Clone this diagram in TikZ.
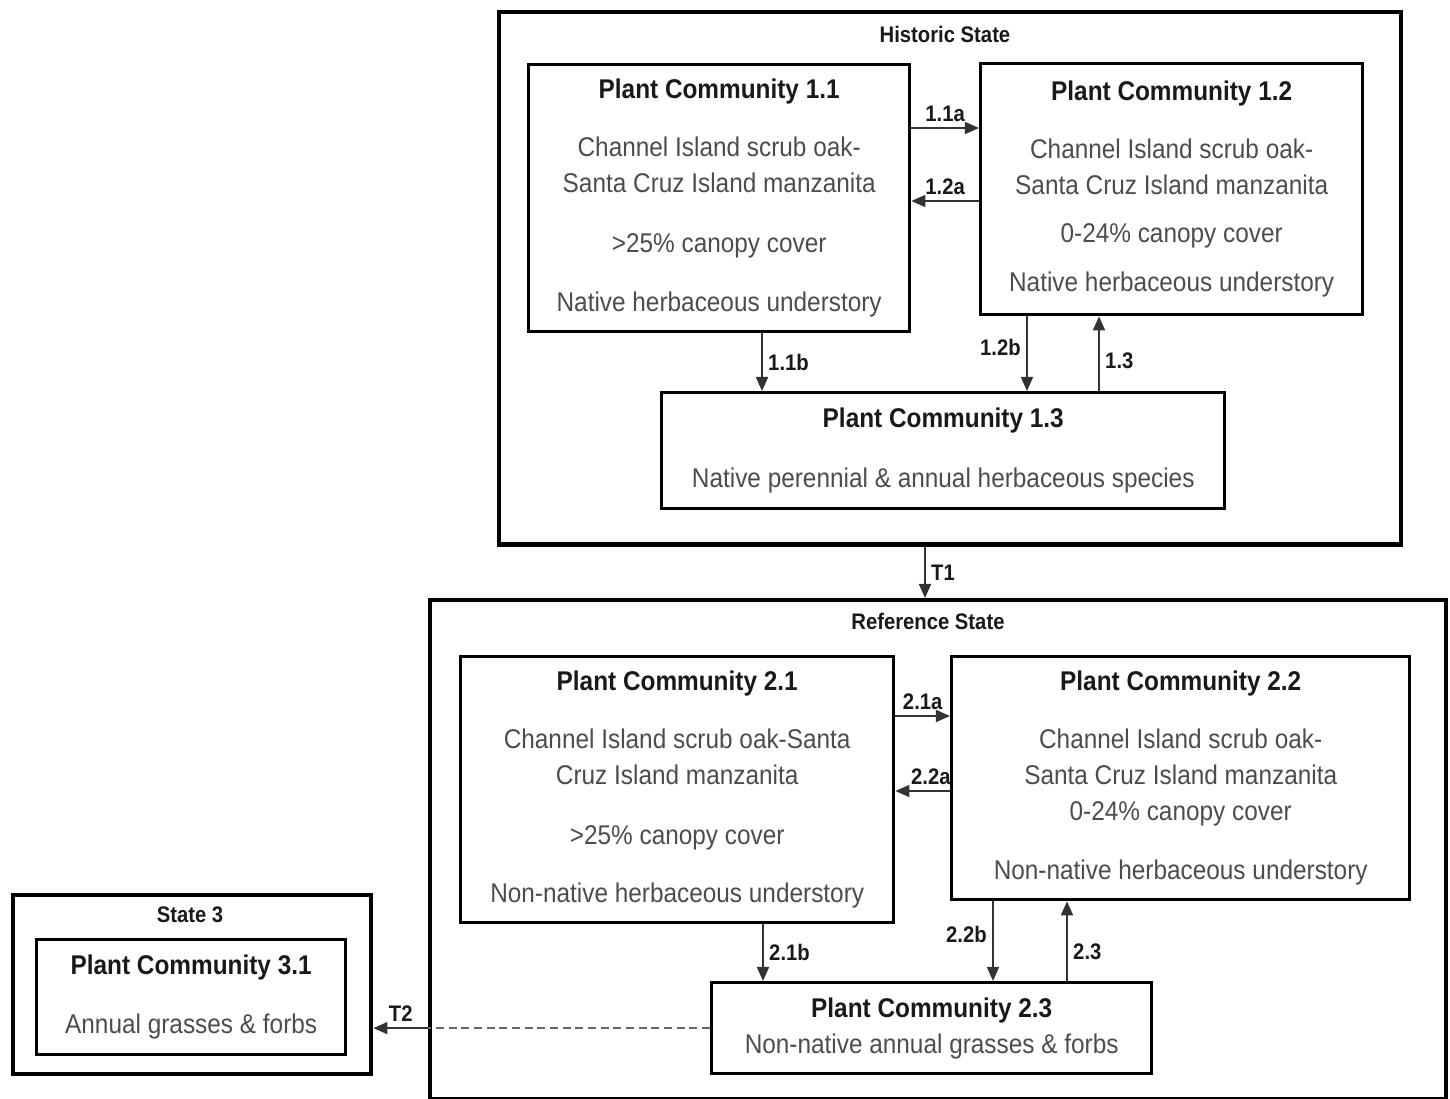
\documentclass[tikz,border=0pt]{standalone}
\usepackage{fontspec}
\newfontfamily\diagfont{Liberation Sans}[FakeStretch=0.9]
\usetikzlibrary{arrows.meta,positioning,calc}

\newcommand{\pctitle}[1]{\textcolor{black!90}{\bfseries #1}}

\begin{document}
\begin{tikzpicture}[
  x=0.01cm, y=-0.01cm,
  font=\diagfont,
  state/.style={draw, line width=1.2pt, anchor=north west, inner sep=0pt},
  pc/.style={draw, line width=0.9pt, anchor=north west, align=center, inner sep=0pt,
    text=black!70, font=\diagfont\fontsize{7.7}{10.2}\selectfont},
  statelbl/.style={font=\diagfont\bfseries\fontsize{6.4}{7.5}\selectfont, text=black!90},
  lbl/.style={font=\diagfont\bfseries\fontsize{6.4}{7.5}\selectfont, text=black!90, inner sep=1.5pt},
  arrow/.style={-{Triangle[length=4pt,width=3.4pt]}, line width=0.55pt, draw=black!80},
  dashline/.style={dashed, dash pattern=on 2.3pt off 1.3pt, line width=0.55pt, draw=black!60}
]
\useasboundingbox (0,0) rectangle (1450,1099);

% historic state
\node[state, minimum width=9.01cm, minimum height=5.32cm] (hist) at (497,10) {};
\node[statelbl] (histlbl) at (945,34) {Historic State};

\node[pc, minimum width=3.81cm, minimum height=2.67cm] (pc11) at (527,63)
  {\pctitle{Plant Community 1.1}\\[6.3pt]
   Channel Island scrub oak-\\
   Santa Cruz Island manzanita\\[6.8pt]
   >25\% canopy cover\\[6.5pt]
   Native herbaceous understory};
\node[pc, minimum width=3.82cm, minimum height=2.51cm] (pc12) at (979,62)
  {\pctitle{Plant Community 1.2}\\[6.3pt]
   Channel Island scrub oak-\\
   Santa Cruz Island manzanita\\[3.4pt]
   0-24\% canopy cover\\[4pt]
   Native herbaceous understory};
\node[pc, minimum width=5.63cm, minimum height=1.16cm] (pc13) at (660,391)
  {\pctitle{Plant Community 1.3}\\[6.8pt]
   Native perennial \& annual herbaceous species};

% reference state
\node[state, minimum width=10.15cm, minimum height=4.99cm] (ref) at (428,598) {};
\node[statelbl] (reflbl) at (928,621) {Reference State};

\node[pc, minimum width=4.33cm, minimum height=2.66cm] (pc21) at (459,655)
  {\pctitle{Plant Community 2.1}\\[6.3pt]
   Channel Island scrub oak-Santa\\
   Cruz Island manzanita\\[6.8pt]
   >25\% canopy cover\\[6.5pt]
   Non-native herbaceous understory};
\node[pc, minimum width=4.58cm, minimum height=2.43cm] (pc22) at (950,655)
  {\pctitle{Plant Community 2.2}\\[6.3pt]
   Channel Island scrub oak-\\
   Santa Cruz Island manzanita\\
   0-24\% canopy cover\\[6.5pt]
   Non-native herbaceous understory};
\node[pc, minimum width=4.40cm, minimum height=0.91cm] (pc23) at (710,981)
  {\pctitle{Plant Community 2.3}\\
   Non-native annual grasses \& forbs};

% state 3
\node[state, minimum width=3.58cm, minimum height=1.79cm] (st3) at (11,893) {};
\node[statelbl] (st3lbl) at (190,915) {State 3};
\node[pc, minimum width=3.09cm, minimum height=1.15cm] (pc31) at (35,938)
  {\pctitle{Plant Community 3.1}\\[6.5pt]
   Annual grasses \& forbs};

% arrow positions
\coordinate (y11a) at (0,128);
\coordinate (y12a) at (0,201);
\coordinate (x11b) at (762,0);
\coordinate (x12b) at (1027,0);
\coordinate (x13) at (1099,0);
\coordinate (xT1) at (925,0);
\coordinate (y21a) at (0,716);
\coordinate (y22a) at (0,791);
\coordinate (x21b) at (763,0);
\coordinate (x22b) at (993,0);
\coordinate (x23) at (1067,0);

\draw[arrow] (pc11.east |- y11a) -- node[lbl, above] {1.1a} (pc12.west |- y11a);
\draw[arrow] (pc12.west |- y12a) -- node[lbl, above] {1.2a} (pc11.east |- y12a);
\draw[arrow] (pc11.south -| x11b) -- node[lbl, right] {1.1b} (pc13.north -| x11b);
\draw[arrow] (pc12.south -| x12b) -- node[lbl, left, pos=0.42] {1.2b} (pc13.north -| x12b);
\draw[arrow] (pc13.north -| x13) -- node[lbl, right, pos=0.4] {1.3} (pc12.south -| x13);

\draw[arrow] (hist.south -| xT1) -- node[lbl, right] {T1} (ref.north -| xT1);

\draw[arrow] (pc21.east |- y21a) -- node[lbl, above] {2.1a} (pc22.west |- y21a);
\draw[arrow] (pc22.west |- y22a) -- node[lbl, above, pos=0.35] {2.2a} (pc21.east |- y22a);
\draw[arrow] (pc21.south -| x21b) -- node[lbl, right] {2.1b} (pc23.north -| x21b);
\draw[arrow] (pc22.south -| x22b) -- node[lbl, left, pos=0.42] {2.2b} (pc23.north -| x22b);
\draw[arrow] (pc23.north -| x23) -- node[lbl, right, pos=0.37] {2.3} (pc22.south -| x23);

\draw[dashline] (pc23.west) -- (ref.west |- pc23.west);
\draw[arrow] (ref.west |- pc23.west) -- node[lbl, above] {T2} (st3.east |- pc23.west);

\end{tikzpicture}
\end{document}
